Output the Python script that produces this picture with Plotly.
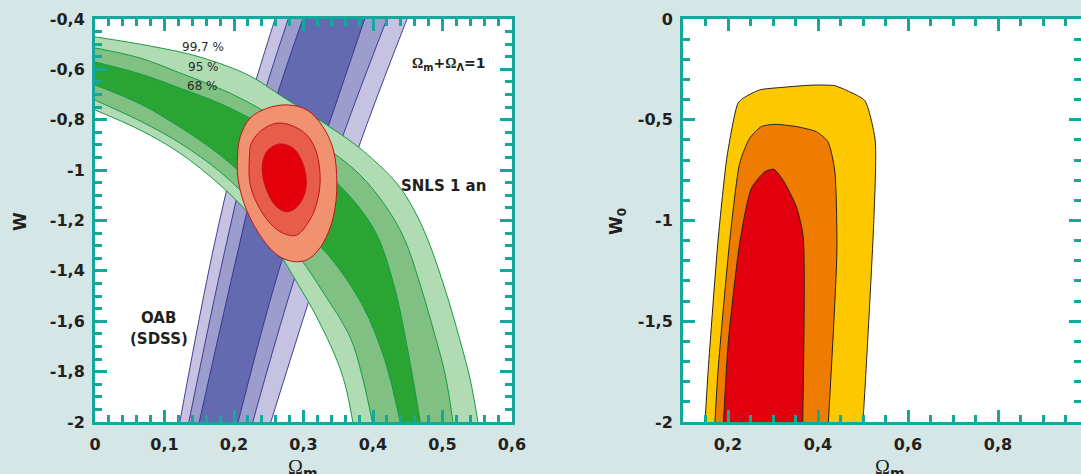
import plotly.graph_objects as go

# ---------------- Left panel data (Omega_m , w) ----------------
# SNLS band boundaries (upper-right edges ; lower-left edges)
snls_997_hi_om = [0, 0.079, 0.151, 0.223, 0.266, 0.338, 0.386, 0.435, 0.459, 0.479, 0.504, 0.525, 0.540, 0.551]
snls_997_hi_w = [-0.471, -0.507, -0.551, -0.626, -0.702, -0.829, -0.924, -1.055, -1.158, -1.277, -1.476, -1.674, -1.833, -2.0]
snls_95_hi_om = [0, 0.065, 0.122, 0.194, 0.266, 0.338, 0.381, 0.417, 0.445, 0.468, 0.489, 0.504, 0.515]
snls_95_hi_w = [-0.515, -0.555, -0.614, -0.694, -0.801, -0.922, -1.018, -1.138, -1.272, -1.456, -1.655, -1.813, -2.0]
snls_68_hi_om = [0, 0.065, 0.122, 0.194, 0.266, 0.338, 0.367, 0.390, 0.409, 0.432, 0.450, 0.468]
snls_68_hi_w = [-0.571, -0.618, -0.674, -0.753, -0.865, -1.025, -1.105, -1.185, -1.277, -1.476, -1.714, -2.0]
snls_68_lo_om = [0, 0.065, 0.122, 0.180, 0.237, 0.295, 0.338, 0.386, 0.417, 0.439]
snls_68_lo_w = [-0.662, -0.737, -0.829, -0.940, -1.079, -1.230, -1.345, -1.543, -1.754, -2.0]
snls_95_lo_om = [0, 0.065, 0.122, 0.180, 0.237, 0.295, 0.328, 0.367, 0.384, 0.399]
snls_95_lo_w = [-0.722, -0.805, -0.892, -1.007, -1.158, -1.349, -1.484, -1.663, -1.813, -2.0]
snls_997_lo_om = [0, 0.065, 0.122, 0.180, 0.223, 0.262, 0.291, 0.319, 0.348, 0.360, 0.371]
snls_997_lo_w = [-0.761, -0.841, -0.932, -1.059, -1.178, -1.317, -1.448, -1.583, -1.754, -1.853, -2.0]

# BAO (SDSS) band edges, from bottom (w=-2) to top (w=-0.4)
bao_left_w = [-2.0, -1.317, -0.821, -0.4]
bao_997_left_om = [0.122, 0.170, 0.213, 0.259]
bao_95_left_om = [0.135, 0.187, 0.230, 0.278]
bao_68_left_om = [0.150, 0.206, 0.249, 0.299]
bao_68_right_om = [0.206, 0.266, 0.324, 0.388]
bao_68_right_w = [-2.0, -1.385, -0.920, -0.4]
bao_95_right_om = [0.227, 0.285, 0.357, 0.420]
bao_95_right_w = [-2.0, -1.448, -0.861, -0.4]
bao_997_right_om = [0.253, 0.305, 0.378, 0.449]
bao_997_right_w = [-2.0, -1.543, -0.920, -0.4]

# Combined contours (closed)
comb_997_om = [0.205, 0.209, 0.223, 0.247, 0.276, 0.305, 0.328, 0.343, 0.348, 0.343, 0.328, 0.309, 0.290, 0.266, 0.242, 0.218, 0.206, 0.205]
comb_997_w = [-0.947, -0.867, -0.794, -0.755, -0.741, -0.761, -0.828, -0.920, -1.052, -1.185, -1.291, -1.350, -1.364, -1.344, -1.277, -1.158, -1.039, -0.947]
comb_95_om = [0.222, 0.225, 0.240, 0.261, 0.281, 0.305, 0.319, 0.324, 0.319, 0.309, 0.290, 0.271, 0.252, 0.233, 0.223, 0.222]
comb_95_w = [-0.960, -0.893, -0.841, -0.814, -0.821, -0.861, -0.933, -1.039, -1.132, -1.198, -1.258, -1.251, -1.211, -1.132, -1.052, -0.960]
comb_68_om = [0.242, 0.249, 0.266, 0.285, 0.297, 0.304, 0.300, 0.288, 0.276, 0.261, 0.247, 0.241, 0.242]
comb_68_w = [-0.960, -0.920, -0.896, -0.913, -0.960, -1.039, -1.106, -1.152, -1.165, -1.145, -1.079, -1.013, -0.960]

# ---------------- Right panel data (Omega_m , w0) ----------------
r_997_om = [0.149, 0.156, 0.178, 0.198, 0.222, 0.233, 0.270, 0.322, 0.389, 0.437, 0.470, 0.504, 0.527, 0.524, 0.501, 0.499]
r_997_w = [-2.0, -1.742, -1.097, -0.680, -0.418, -0.394, -0.352, -0.339, -0.328, -0.331, -0.361, -0.405, -0.600, -1.000, -1.957, -2.0]
r_95_om = [0.171, 0.178, 0.204, 0.226, 0.248, 0.274, 0.304, 0.352, 0.396, 0.422, 0.437, 0.442, 0.423]
r_95_w = [-2.0, -1.742, -1.097, -0.716, -0.592, -0.534, -0.523, -0.534, -0.559, -0.609, -0.749, -1.146, -2.0]
r_68_om = [0.190, 0.201, 0.227, 0.252, 0.282, 0.302, 0.322, 0.352, 0.367, 0.366]
r_68_w = [-2.0, -1.593, -1.097, -0.840, -0.758, -0.746, -0.799, -0.932, -1.080, -2.0]

# ---------------- Ticks ----------------
lx_vals = [0, 0.1, 0.2, 0.3, 0.4, 0.5, 0.6]
lx_text = ["0", "0,1", "0,2", "0,3", "0,4", "0,5", "0,6"]
ly_vals = [-2, -1.8, -1.6, -1.4, -1.2, -1, -0.8, -0.6, -0.4]
ly_text = ["-2", "-1,8", "-1,6", "-1,4", "-1,2", "-1", "-0,8", "-0,6", "-0,4"]
rx_vals = [0.2, 0.4, 0.6, 0.8]
rx_text = ["0,2", "0,4", "0,6", "0,8"]
ry_vals = [-2, -1.5, -1, -0.5, 0]
ry_text = ["-2", "-1,5", "-1", "-0,5", "0"]

TEAL = "#12a89b"
BG = "#d5e6e6"
TXT = "#231f20"

fig = go.Figure()


def line_tr(x, y, color, width, xa="x", ya="y", fill=None, fillcolor=None, smoothing=1.0):
    return go.Scatter(x=x, y=y, mode="lines", xaxis=xa, yaxis=ya,
                      line=dict(color=color, width=width, shape="spline", smoothing=smoothing),
                      fill=fill, fillcolor=fillcolor, hoverinfo="skip", showlegend=False)


# BAO bands (under SNLS)
BLUE_EDGE = "#2f3189"
bands_bao = [
    (bao_997_left_om, bao_left_w, bao_997_right_om, bao_997_right_w, "#c6c2e1"),
    (bao_95_left_om, bao_left_w, bao_95_right_om, bao_95_right_w, "#9c9ccd"),
    (bao_68_left_om, bao_left_w, bao_68_right_om, bao_68_right_w, "#636ab0"),
]
for lo_x, lo_y, hi_x, hi_y, col in bands_bao:
    fig.add_trace(line_tr(lo_x, lo_y, BLUE_EDGE, 0.9))
    fig.add_trace(line_tr(hi_x, hi_y, BLUE_EDGE, 0.9, fill="tonexty", fillcolor=col))

# SNLS bands
GREEN_EDGE = "#179a44"
bands_snls = [
    (snls_997_lo_om, snls_997_lo_w, snls_997_hi_om, snls_997_hi_w, "#b1dbb2"),
    (snls_95_lo_om, snls_95_lo_w, snls_95_hi_om, snls_95_hi_w, "#80c083"),
    (snls_68_lo_om, snls_68_lo_w, snls_68_hi_om, snls_68_hi_w, "#2aa534"),
]
for lo_x, lo_y, hi_x, hi_y, col in bands_snls:
    fig.add_trace(line_tr(lo_x, lo_y, GREEN_EDGE, 1.0))
    fig.add_trace(line_tr(hi_x, hi_y, GREEN_EDGE, 1.0, fill="tonexty", fillcolor=col))

# combined contours
RED_EDGE = "#c0141d"
for cx, cy, col in [(comb_997_om, comb_997_w, "#f0916f"),
                    (comb_95_om, comb_95_w, "#e85c4a"),
                    (comb_68_om, comb_68_w, "#e3000b")]:
    fig.add_trace(line_tr(cx, cy, RED_EDGE, 1.0, fill="toself", fillcolor=col))

# right panel contours
for cx, cy, col in [(r_997_om, r_997_w, "#fdc800"),
                    (r_95_om, r_95_w, "#ee7c00"),
                    (r_68_om, r_68_w, "#e2000f")]:
    fig.add_trace(line_tr(cx, cy, "#222222", 1.0, xa="x2", ya="y2",
                          fill="toself", fillcolor=col, smoothing=0.6))

W, H = 1081, 474


def px_x(p):
    return p / W


def px_y(p):
    return 1 - p / H


tickfont = dict(family="DejaVu Sans", size=16, color=TXT, weight="bold")
common = dict(showline=True, linecolor=TEAL, linewidth=3, mirror="ticks",
              ticks="inside", tickcolor=TEAL, tickwidth=2.5, ticklen=12,
              showgrid=False, zeroline=False, tickfont=tickfont, tickmode="array",
              automargin=False)


def minor(dt):
    return dict(ticks="inside", ticklen=7, tickwidth=2.5, tickcolor=TEAL,
                tickmode="linear", tick0=0, dtick=dt, showgrid=False)


fig.update_layout(
    width=W, height=H,
    margin=dict(l=0, r=0, t=0, b=0, autoexpand=False),
    paper_bgcolor=BG, plot_bgcolor="white",
    xaxis=dict(domain=[px_x(95), px_x(512)], range=[0, 0.6], anchor="y",
               tickvals=lx_vals, ticktext=lx_text, minor=minor(0.02),
               ticklabelstandoff=6, **common),
    yaxis=dict(domain=[px_y(422), px_y(19)], range=[-2, -0.4], anchor="x",
               tickvals=ly_vals, ticktext=ly_text, minor=minor(0.05),
               ticklabelstandoff=4, **common),
    xaxis2=dict(domain=[px_x(683), 1.0], range=[0.1, 0.9844], anchor="y2",
                tickvals=rx_vals, ticktext=rx_text, minor=minor(0.05),
                ticklabelstandoff=6, **common),
    yaxis2=dict(domain=[px_y(422), px_y(19)], range=[-2, 0], anchor="x2",
                tickvals=ry_vals, ticktext=ry_text, minor=minor(0.1),
                ticklabelstandoff=4, **common),
)

OMEGA = '<span style="font-family:Liberation Serif">Ω</span>'
ann = []
# in-plot labels (left panel)
for txt, x, y in [("99,7 %", 0.155, -0.513), ("95 %", 0.156, -0.590), ("68 %", 0.154, -0.665)]:
    ann.append(dict(text=txt, x=x, y=y, xref="x", yref="y", showarrow=False,
                    font=dict(family="DejaVu Sans", size=12, color="#2a2a2a")))
ann.append(dict(text=OMEGA + "<sub>m</sub>+" + OMEGA + "<sub>Λ</sub>=1", x=0.509, y=-0.579,
                xref="x", yref="y", showarrow=False,
                font=dict(family="DejaVu Sans", size=14, color=TXT, weight="bold")))
ann.append(dict(text="SNLS 1 an", x=0.501, y=-1.063, xref="x", yref="y", showarrow=False,
                font=dict(family="DejaVu Sans", size=15, color=TXT, weight="bold")))
ann.append(dict(text="OAB", x=0.0914, y=-1.589, xref="x", yref="y", showarrow=False,
                font=dict(family="DejaVu Sans", size=15, color=TXT, weight="bold")))
ann.append(dict(text="(SDSS)", x=0.092, y=-1.672, xref="x", yref="y", showarrow=False,
                font=dict(family="DejaVu Sans", size=15, color=TXT, weight="bold")))
# axis titles
ann.append(dict(text="W", x=px_x(20), y=px_y(222), xref="paper", yref="paper", showarrow=False,
                xanchor="center", yanchor="middle", textangle=-90,
                font=dict(family="DejaVu Sans", size=17, color=TXT, weight="bold")))
ann.append(dict(text="W<sub>0</sub>", x=px_x(617), y=px_y(222), xref="paper", yref="paper",
                showarrow=False, xanchor="center", yanchor="middle", textangle=-90,
                font=dict(family="DejaVu Sans", size=17, color=TXT, weight="bold")))
for xc in (302, 889):
    ann.append(dict(text=OMEGA + "<sub><b>m</b></sub>", x=px_x(xc), y=px_y(454), xref="paper",
                    yref="paper", showarrow=False, xanchor="center", yanchor="top",
                    font=dict(family="DejaVu Sans", size=20, color=TXT)))
fig.update_layout(annotations=ann)

fig.write_html("out.html")
